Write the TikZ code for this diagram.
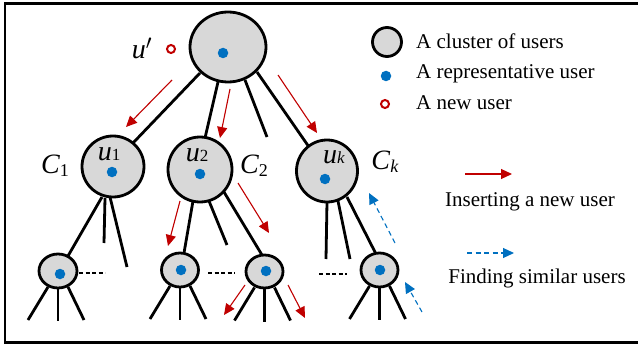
\documentclass[tikz,border=0pt]{standalone}
\usepackage{fontspec}
\setmainfont{Liberation Serif}
\usetikzlibrary{arrows.meta}
\definecolor{cgray}{RGB}{216,216,216}
\definecolor{cblue}{RGB}{0,112,192}
\definecolor{cred}{RGB}{192,0,0}
\tikzset{
  dotb/.style={circle, fill=cblue, inner sep=0pt, minimum size=10.5pt},
  newu/.style={circle, draw=cred, line width=2pt, inner sep=0pt, minimum size=8pt},
  edge/.style={line width=2.8pt, black},
  ring/.style={line width=2.8pt, black, fill=cgray},
  ins/.style={cred, line width=1.1pt, -{Triangle[length=11pt,width=10pt]}},
  fnd/.style={cblue, line width=1.1pt, dash pattern=on 5pt off 3.5pt, -{Triangle[length=11pt,width=10pt]}},
  dots/.style={line width=2.6pt, dash pattern=on 4pt off 2.5pt},
  lab/.style={font=\fontsize{21}{24}\selectfont, anchor=west, inner sep=0pt},
  mlab/.style={font=\fontsize{28}{30}\selectfont, inner sep=0pt},
}
\begin{document}
\begin{tikzpicture}[x=1pt,y=-1pt]
\useasboundingbox (0,0) rectangle (638,345);
% frame
\draw[line width=2.8pt] (645,3.5) -- (5,3.5) -- (5,342.5) -- (645,342.5);

% edges from root
\coordinate (r1) at (200,73);  \coordinate (r2) at (218,82);
\coordinate (r3) at (245,80);  \coordinate (r4) at (257,72);
\coordinate (s3) at (267,137);
\coordinate (t1) at (133,143); \coordinate (t2) at (205,138); \coordinate (tk) at (309,147);
\draw[edge] (r1) -- (t1);
\draw[edge] (r2) -- (t2);
\draw[edge] (r3) -- (s3);
\draw[edge] (r4) -- (tk);

% cluster shapes (ellipses)
\draw[ring] (228,47) ellipse [x radius=38, y radius=35];
\coordinate (root) at (228,47);
\foreach \n/\x/\y/\rx/\ry in {u1/113/166.5/31/30.5, u2/200/169.5/32/32.5, uk/327/171/30.5/31, L1/58/271/19/17, L2/180/270/18.5/17, L3/264.5/271.5/18.5/16.5, L4/379.5/270/18.5/17} {
  \draw[ring] (\x,\y) ellipse [x radius=\rx, y radius=\ry];
  \coordinate (\n) at (\x,\y);
}
% u1 children
\coordinate (a1) at (102,197); \coordinate (a1e) at (68,256);
\coordinate (a2) at (105,198); \coordinate (a2e) at (104,243);
\coordinate (a3) at (110,197); \coordinate (a3e) at (127,267);
\draw[edge] (a1) -- (a1e);
\draw[edge] (a2) -- (a2e);
\draw[edge] (a3) -- (a3e);
% u2 children
\coordinate (b1) at (193,201); \coordinate (b1e) at (184,253);
\coordinate (b2) at (209,201); \coordinate (b2e) at (227,245);
\coordinate (b3) at (224,192); \coordinate (b3e) at (262,255);
\draw[edge] (b1) -- (b1e);
\draw[edge] (b2) -- (b2e);
\draw[edge] (b3) -- (b3e);
% uk children
\coordinate (c1) at (327,202); \coordinate (c1e) at (326,259);
\coordinate (c2) at (338,201); \coordinate (c2e) at (350,259);
\coordinate (c3) at (347,197); \coordinate (c3e) at (376,254);
\draw[edge] (c1) -- (c1e);
\draw[edge] (c2) -- (c2e);
\draw[edge] (c3) -- (c3e);
% leaf children
\foreach \cx/\cy in {58/271, 180/270, 264.5/271.5, 379.5/270} {
  \draw[edge] (\cx-10,\cy+16) -- (\cx-30,\cy+49);
  \draw[edge] (\cx,\cy+17) -- (\cx,\cy+50);
  \draw[edge] (\cx+10,\cy+16) -- (\cx+26,\cy+49);
}
% dashes
\coordinate (d1a) at (79,273); \coordinate (d1b) at (105,273);
\coordinate (d2a) at (208,273); \coordinate (d2b) at (235,273);
\coordinate (d3a) at (319,274); \coordinate (d3b) at (347,274);
\draw[dots] (d1a) -- (d1b);
\draw[dots] (d2a) -- (d2b);
\draw[dots] (d3a) -- (d3b);

% blue dots
\node[dotb] (p0) at (223,53) {};
\node[dotb] (p1) at (112,172) {};
\node[dotb] (p2) at (200,174) {};
\node[dotb] (pk) at (325,179) {};
\node[dotb] (q1) at (60,274) {};
\node[dotb] (q2) at (181,270) {};
\node[dotb] (q3) at (266,271) {};
\node[dotb] (q4) at (380,270) {};

% new user
\node[newu] (nu) at (171,49) {};
\node[mlab] (ulab) at (142,48) {\textit{u}$^{\prime}$};

% labels
\node[mlab] (lu1) at (109,154) {\textit{u}\fontsize{17}{18}\selectfont 1};
\node[mlab] (lu2) at (197,155) {\textit{u}\fontsize{17}{18}\selectfont 2};
\node[mlab] (luk) at (334,157) {\textit{u}\fontsize{17}{18}\selectfont\textit{k}};
\node[mlab] (lc1) at (55,166) {\textit{C}\raisebox{-3pt}{\fontsize{18}{18}\selectfont 1}};
\node[mlab] (lc2) at (254,166) {\textit{C}\raisebox{-3pt}{\fontsize{18}{18}\selectfont 2}};
\node[mlab] (lck) at (385,162) {\textit{C}\raisebox{-3pt}{\fontsize{18}{18}\selectfont\textit{k}}};

% red insert arrows
\coordinate (i1a) at (172,80);  \coordinate (i1b) at (126,127);
\coordinate (i2a) at (230,89);  \coordinate (i2b) at (220,138);
\coordinate (i3a) at (278,75);  \coordinate (i3b) at (317,133);
\coordinate (i4a) at (180,201); \coordinate (i4b) at (168,246);
\coordinate (i5a) at (238,183); \coordinate (i5b) at (269,233);
\coordinate (i6a) at (245,285); \coordinate (i6b) at (224,315);
\coordinate (i7a) at (288,285); \coordinate (i7b) at (305,318);
\foreach \k in {1,...,7} { \draw[ins] (i\k a) -- (i\k b); }
% blue find arrows
\coordinate (f1a) at (395,243); \coordinate (f1b) at (369,193);
\coordinate (f2a) at (422,312); \coordinate (f2b) at (405,282);
\draw[fnd] (f1a) -- (f1b);
\draw[fnd] (f2a) -- (f2b);

% legend
\draw[ring] (387,42) ellipse [x radius=14.5, y radius=14.5];
\node[lab] (t1l) at (416,41) {A cluster of users};
\node[dotb] (ld) at (386,76) {};
\node[lab] (t2l) at (416,74) {A representative user};
\node[newu] (ln) at (385,104) {};
\node[lab] (t3l) at (416,103) {A new user};
\coordinate (la1) at (465,174); \coordinate (la2) at (512,174);
\draw[ins] (la1) -- (la2);
\node[lab, anchor=center] (t4l) at (530,202) {Inserting a new user};
\coordinate (lb1) at (467,253); \coordinate (lb2) at (514,253);
\draw[fnd] (lb1) -- (lb2);
\node[lab, anchor=center] (t5l) at (537,278) {Finding similar users};
\end{tikzpicture}
\end{document}
